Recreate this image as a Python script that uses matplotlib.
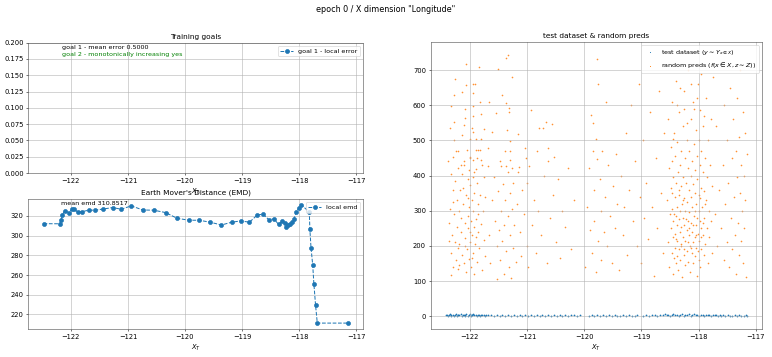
import matplotlib
matplotlib.use("Agg")
import matplotlib.pyplot as plt

# EMD per x bin
emd_x = [-122.48, -122.19, -122.17, -122.15, -122.11, -122.04, -121.98, -121.94, -121.88, -121.80,
         -121.69, -121.58, -121.43, -121.27, -121.12, -120.94, -120.74, -120.55, -120.34, -120.14,
         -119.93, -119.75, -119.56, -119.36, -119.18, -119.02, -118.87, -118.73, -118.63, -118.53,
         -118.44, -118.36, -118.29, -118.25, -118.22, -118.19, -118.15, -118.12, -118.09, -118.05,
         -118.00, -117.96, -117.82, -117.81, -117.79, -117.76, -117.74, -117.71, -117.68, -117.14]
emd_y = [312.1, 312.0, 316.0, 321.0, 325.4, 323.4, 327.0, 327.0, 323.7, 324.4,
         325.8, 325.8, 327.0, 328.5, 326.8, 330.2, 326.0, 325.8, 323.4, 317.6,
         315.6, 315.6, 313.6, 310.8, 313.6, 314.9, 313.6, 321.0, 321.7, 316.2,
         316.9, 311.5, 315.0, 312.9, 309.0, 310.8, 312.2, 314.2, 316.9, 323.7,
         328.5, 331.2, 324.0, 306.4, 287.7, 270.0, 251.3, 229.2, 211.1, 211.1]
mean_emd = 310.8517

# goal 1 local error, all 0.5 (outside the 0..0.2 view)
local_error = [0.5] * len(emd_x)
mean_error = 0.5
monotonic = "yes"

# test dataset points (y close to 0)
test_pts = [
    (-122.42, 2.5), (-122.40, 4.0), (-122.38, 1.0), (-122.36, 3.5), (-122.34, 5.0), (-122.32, 2.0),
    (-122.30, 4.5), (-122.28, 0.5), (-122.26, 3.0), (-122.24, 5.5), (-122.22, 1.5), (-122.20, 4.0),
    (-122.18, 2.5), (-122.16, 5.0), (-122.14, 1.0), (-122.12, 3.5), (-122.10, 4.5), (-122.08, 2.0),
    (-122.06, 5.5), (-122.04, 0.8), (-122.02, 3.0), (-122.00, 4.8), (-121.98, 1.8), (-121.96, 3.8),
    (-121.94, 5.2), (-121.92, 2.2), (-121.90, 4.2), (-121.88, 0.6), (-121.86, 3.2), (-121.84, 4.6),
    (-121.82, 1.4), (-121.80, 3.6), (-121.78, 2.6), (-121.76, 4.4), (-121.74, 1.2), (-121.72, 3.0),
    (-122.33, 0.8), (-122.21, 3.0), (-122.09, 1.2), (-121.97, 2.8),
    (-121.68, 2.0), (-121.63, 3.5), (-121.58, 1.0), (-121.53, 2.8), (-121.48, 0.8), (-121.43, 3.2),
    (-121.38, 1.5), (-121.33, 2.5), (-121.28, 0.6), (-121.23, 3.0), (-121.18, 1.8), (-121.13, 2.2),
    (-121.08, 0.9), (-121.03, 2.7), (-120.98, 1.3), (-120.93, 3.1), (-120.88, 0.7), (-120.83, 2.4),
    (-120.78, 1.6), (-120.73, 2.9), (-120.68, 0.5), (-120.63, 2.1), (-120.58, 1.2), (-120.53, 3.3),
    (-120.48, 0.8), (-120.43, 2.0), (-120.38, 1.5), (-120.33, 2.6), (-120.28, 0.9), (-120.23, 1.9),
    (-120.18, 2.8), (-120.13, 1.1), (-120.08, 4.5),
    (-119.92, 1.5), (-119.87, 2.8), (-119.82, 0.8), (-119.77, 2.2), (-119.72, 1.4), (-119.67, 3.0),
    (-119.62, 0.7), (-119.57, 2.0), (-119.52, 1.2), (-119.47, 2.6), (-119.42, 0.9), (-119.37, 1.8),
    (-119.32, 2.9), (-119.27, 1.0), (-119.22, 2.3), (-119.17, 0.6), (-119.12, 1.6), (-119.07, 2.7),
    (-118.97, 1.3), (-118.92, 2.4), (-118.87, 0.8), (-118.82, 1.9), (-118.77, 3.0), (-118.72, 1.1),
    (-118.67, 2.2),
    (-118.62, 3.5), (-118.59, 5.0), (-118.56, 2.0), (-118.53, 4.5), (-118.50, 1.0), (-118.47, 3.8),
    (-118.44, 5.5), (-118.41, 2.5), (-118.38, 4.2), (-118.35, 0.8), (-118.32, 3.2), (-118.29, 5.2),
    (-118.26, 1.8), (-118.23, 4.0), (-118.20, 2.8), (-118.17, 5.0), (-118.14, 1.2), (-118.11, 3.6),
    (-118.08, 4.8), (-118.05, 2.2), (-118.02, 4.4), (-117.99, 0.9), (-117.96, 3.0), (-117.93, 4.6),
    (-117.90, 1.6), (-117.87, 3.4), (-117.84, 2.4), (-117.81, 4.0), (-117.78, 1.0), (-117.75, 3.0),
    (-117.72, 2.0), (-117.69, 3.6), (-117.66, 1.4), (-117.63, 2.6), (-117.60, 0.8),
    (-117.57, 2.0), (-117.53, 1.0), (-117.49, 2.6), (-117.45, 0.7), (-117.41, 1.8), (-117.37, 2.4),
    (-117.33, 1.1), (-117.29, 2.0), (-117.25, 0.8), (-117.21, 1.6), (-117.17, 2.2), (-117.15, 1.0),
]

# random predictions, grouped by x cluster
preds_a = [
    (-122.38, 442), (-122.36, 265), (-122.35, 305), (-122.34, 535), (-122.33, 180), (-122.32, 118),
    (-122.32, 597), (-122.31, 230), (-122.30, 452), (-122.30, 358), (-122.29, 140), (-122.28, 630),
    (-122.28, 553), (-122.28, 501), (-122.27, 290), (-122.26, 674), (-122.26, 212), (-122.25, 385),
    (-122.24, 160), (-122.23, 330), (-122.22, 255), (-122.21, 420), (-122.20, 135), (-122.20, 470),
    (-122.19, 300), (-122.18, 205), (-122.17, 360), (-122.16, 240), (-122.15, 280), (-122.14, 639),
    (-122.14, 516), (-122.13, 175), (-122.13, 405), (-122.12, 320), (-122.11, 150), (-122.10, 544),
    (-122.10, 440), (-122.10, 430), (-122.09, 265), (-122.08, 590), (-122.08, 563), (-122.08, 222),
    (-122.07, 658), (-122.07, 345), (-122.06, 717), (-122.06, 125), (-122.05, 474), (-122.05, 190),
    (-122.04, 390), (-122.04, 285), (-122.03, 250), (-122.02, 162), (-122.02, 415), (-122.01, 310),
    (-122.00, 503), (-122.00, 450), (-122.00, 210), (-121.99, 454), (-121.99, 372), (-121.98, 140),
    (-121.98, 270), (-121.97, 536), (-121.97, 232), (-121.96, 330), (-121.95, 660), (-121.95, 635),
    (-121.95, 597), (-121.95, 568), (-121.95, 525), (-121.95, 180), (-121.94, 445), (-121.94, 395),
    (-121.94, 300), (-121.93, 255), (-121.92, 120), (-121.92, 350), (-121.91, 660), (-121.91, 205),
    (-121.90, 503), (-121.90, 474), (-121.90, 418), (-121.89, 275), (-121.88, 450), (-121.88, 155),
    (-121.87, 380), (-121.86, 318), (-121.85, 474), (-121.85, 238), (-121.84, 710), (-121.84, 195),
    (-121.83, 608), (-121.82, 474), (-121.82, 345), (-121.81, 575), (-121.80, 503), (-121.80, 445),
    (-121.80, 262), (-121.79, 130), (-121.78, 430), (-121.77, 300), (-121.76, 533), (-121.76, 218),
    (-121.75, 395), (-121.74, 170), (-121.73, 340), (-122.37, 215), (-122.33, 405), (-122.29, 325),
    (-122.24, 470), (-122.21, 195), (-122.18, 145), (-122.16, 430), (-122.12, 365), (-122.09, 200),
    (-122.03, 335), (-121.99, 240), (-121.96, 165), (-121.93, 410), (-121.89, 225), (-121.86, 290),
]
preds_b = [
    (-121.69, 427), (-121.68, 477), (-121.67, 609), (-121.66, 230), (-121.64, 150), (-121.62, 525),
    (-121.61, 330), (-121.58, 395), (-121.56, 270), (-121.54, 578), (-121.53, 105), (-121.52, 200),
    (-121.51, 703), (-121.50, 355), (-121.49, 245), (-121.48, 440), (-121.47, 160), (-121.46, 300),
    (-121.45, 427), (-121.44, 215), (-121.43, 628), (-121.42, 375), (-121.41, 120), (-121.40, 260),
    (-121.39, 470), (-121.38, 330), (-121.37, 606), (-121.37, 427), (-121.36, 734), (-121.36, 185),
    (-121.35, 530), (-121.34, 285), (-121.33, 742), (-121.33, 410), (-121.32, 592), (-121.32, 580),
    (-121.31, 140), (-121.30, 470), (-121.30, 445), (-121.30, 350), (-121.29, 497), (-121.29, 230),
    (-121.28, 108), (-121.27, 680), (-121.27, 305), (-121.26, 420), (-121.25, 195), (-121.24, 380),
    (-121.22, 260), (-121.20, 155), (-121.18, 320), (-121.16, 410), (-121.15, 518), (-121.14, 425),
    (-121.12, 240), (-121.10, 170), (-121.08, 360), (-121.06, 290),
]
preds_c = [
    (-121.04, 477), (-121.02, 450), (-121.00, 200), (-121.00, 380), (-120.98, 140), (-120.96, 427),
    (-120.93, 585), (-120.91, 260), (-120.88, 330), (-120.85, 180), (-120.83, 470), (-120.80, 300),
    (-120.79, 536), (-120.76, 230), (-120.72, 535), (-120.70, 400), (-120.67, 551), (-120.65, 150),
    (-120.63, 478), (-120.63, 440), (-120.60, 280), (-120.57, 546), (-120.55, 345), (-120.53, 452),
    (-120.50, 210), (-120.45, 390), (-120.42, 165), (-120.38, 300), (-120.33, 255), (-120.28, 420),
    (-120.23, 190), (-120.18, 330),
]
preds_d = [
    (-119.98, 140), (-119.95, 310), (-119.92, 420), (-119.90, 245), (-119.88, 573), (-119.86, 180),
    (-119.85, 470), (-119.84, 548), (-119.83, 360), (-119.82, 270), (-119.80, 503), (-119.79, 125),
    (-119.77, 732), (-119.77, 446), (-119.76, 660), (-119.75, 215), (-119.73, 390), (-119.71, 300),
    (-119.70, 160), (-119.68, 470), (-119.66, 240), (-119.64, 340), (-119.62, 610), (-119.60, 200),
    (-119.58, 430), (-119.55, 285), (-119.52, 150), (-119.50, 370), (-119.47, 250), (-119.44, 460),
    (-119.42, 320), (-119.40, 130),
]
preds_e = [
    (-119.36, 400), (-119.33, 230), (-119.30, 310), (-119.27, 520), (-119.25, 175), (-119.22, 360),
    (-119.18, 600), (-119.15, 270), (-119.12, 440), (-119.08, 200), (-119.05, 660), (-119.03, 340),
    (-119.00, 150), (-118.98, 500), (-118.95, 280), (-118.92, 380), (-118.88, 220), (-118.85, 580),
    (-118.82, 310), (-118.78, 115), (-118.75, 450), (-118.72, 250), (-118.69, 640), (-118.66, 350),
    (-118.63, 180), (-118.60, 520),
]
preds_f = [
    (-118.55, 330), (-118.54, 560), (-118.53, 210), (-118.52, 420), (-118.51, 140), (-118.50, 290),
    (-118.49, 480), (-118.48, 250), (-118.48, 365), (-118.47, 180), (-118.47, 610), (-118.46, 305),
    (-118.46, 440), (-118.45, 225), (-118.45, 120), (-118.44, 395), (-118.44, 270), (-118.43, 520),
    (-118.43, 165), (-118.42, 340), (-118.42, 235), (-118.41, 455), (-118.41, 195), (-118.40, 285),
    (-118.40, 670), (-118.39, 380), (-118.39, 150), (-118.38, 260), (-118.38, 310), (-118.37, 495),
    (-118.37, 215), (-118.36, 410), (-118.36, 130), (-118.35, 345), (-118.35, 275), (-118.34, 580),
    (-118.34, 190), (-118.33, 240), (-118.33, 430), (-118.32, 300), (-118.32, 160), (-118.31, 370),
    (-118.31, 255), (-118.30, 470), (-118.30, 205), (-118.29, 320), (-118.29, 110), (-118.28, 540),
    (-118.28, 280), (-118.27, 225), (-118.27, 395), (-118.26, 175), (-118.26, 335), (-118.25, 640),
    (-118.25, 260), (-118.24, 450), (-118.24, 145), (-118.23, 300), (-118.23, 215), (-118.22, 380),
    (-118.21, 500), (-118.21, 245), (-118.20, 185), (-118.20, 325), (-118.19, 420), (-118.19, 270),
    (-118.18, 700), (-118.18, 155), (-118.17, 360), (-118.17, 230), (-118.16, 470), (-118.16, 295),
    (-118.15, 200), (-118.15, 125), (-118.14, 400), (-118.14, 265), (-118.13, 560), (-118.13, 340),
    (-118.12, 180), (-118.12, 240), (-118.11, 440), (-118.11, 310), (-118.10, 210), (-118.10, 610),
    (-118.09, 375), (-118.09, 150), (-118.08, 285), (-118.08, 490), (-118.07, 225), (-118.07, 350),
    (-118.06, 170), (-118.06, 415), (-118.05, 260), (-118.05, 530), (-118.04, 320), (-118.04, 195),
    (-118.03, 455), (-118.03, 115), (-118.02, 280), (-118.02, 390), (-118.01, 235), (-118.01, 660),
    (-118.00, 345), (-118.00, 160), (-118.00, 500), (-117.99, 300), (-117.99, 215), (-117.98, 430),
    (-117.98, 270), (-117.97, 585), (-117.97, 140), (-117.96, 365), (-117.96, 250), (-117.95, 190),
    (-117.95, 470), (-117.94, 310), (-117.93, 410), (-117.93, 230), (-117.92, 540), (-117.91, 175),
    (-117.91, 355), (-117.90, 280), (-117.89, 450), (-117.88, 205), (-117.87, 620), (-117.87, 330),
    (-117.86, 250), (-117.85, 395), (-117.84, 150), (-117.83, 500), (-117.82, 300), (-117.81, 225),
    (-117.80, 430), (-117.79, 560), (-117.78, 270), (-117.77, 180), (-117.76, 370), (-117.75, 680),
    (-118.46, 350), (-118.43, 290), (-118.40, 220), (-118.37, 170), (-118.34, 360), (-118.31, 200),
    (-118.28, 330), (-118.25, 190), (-118.22, 275), (-118.19, 210), (-118.16, 250), (-118.13, 195),
    (-118.10, 260), (-118.07, 300), (-118.04, 230), (-118.01, 185), (-117.98, 335), (-117.95, 225),
    (-117.92, 265), (-117.89, 320), (-118.44, 505), (-118.38, 600), (-118.32, 650), (-118.26, 590),
    (-118.20, 550), (-118.14, 660), (-118.08, 590), (-118.02, 620), (-117.96, 690), (-117.90, 570),
]
preds_g = [
    (-117.60, 250), (-117.58, 430), (-117.56, 160), (-117.55, 600), (-117.53, 320), (-117.51, 210),
    (-117.50, 500), (-117.48, 380), (-117.47, 140), (-117.45, 650), (-117.44, 280), (-117.42, 450),
    (-117.41, 190), (-117.40, 560), (-117.38, 340), (-117.37, 230), (-117.35, 470), (-117.34, 120),
    (-117.33, 395), (-117.32, 620), (-117.31, 265), (-117.30, 510), (-117.29, 175), (-117.28, 350),
    (-117.27, 700), (-117.26, 430), (-117.25, 215), (-117.24, 300), (-117.23, 580), (-117.22, 150),
    (-117.21, 400), (-117.20, 250), (-117.19, 520), (-117.18, 330), (-117.17, 110), (-117.16, 460),
    (-117.65, 360), (-117.68, 200), (-117.70, 540), (-117.72, 290),
]

all_preds = preds_a + preds_b + preds_c + preds_d + preds_e + preds_f + preds_g
pred_x = [p[0] for p in all_preds]
pred_y = [p[1] for p in all_preds]
test_x = [p[0] for p in test_pts]
test_y = [p[1] for p in test_pts]

plt.rcParams['font.size'] = 10
plt.rcParams['axes.titlesize'] = 11
plt.rcParams['axes.edgecolor'] = '#444444'

fig = plt.figure(figsize=(16, 7.4), dpi=48.25)
fig.suptitle('epoch 0 / X dimension "Longitude"', y=0.985, fontsize=12)

# training goals
ax_goal = fig.add_axes([0.0367, 0.5154, 0.4339, 0.365])
ax_goal.plot(emd_x, local_error, '--o', label='goal 1 - local error')
ax_goal.set_ylim(0, 0.2)
ax_goal.set_title('Training goals')
ax_goal.set_xlabel('$X_T$')
ax_goal.text(0.10, 0.985, 'goal 1 - mean error %.4f' % mean_error, transform=ax_goal.transAxes,
             va='top', fontsize=9.5)
ax_goal.text(0.10, 0.93, 'goal 2 - monotonically increasing ' + monotonic, transform=ax_goal.transAxes,
             va='top', fontsize=9.5, color='green')
ax_goal.legend(loc='upper right', fontsize=9.5)
ax_goal.grid(True)

# EMD
ax_emd = fig.add_axes([0.0367, 0.0784, 0.4339, 0.3642])
ax_emd.plot(emd_x, emd_y, '--o', label='local emd')
ax_emd.set_title("Earth Mover's Distance (EMD)")
ax_emd.set_xlabel('$X_T$')
ax_emd.text(emd_x[2], max(emd_y), 'mean emd %.4f' % mean_emd, fontsize=9.5)
ax_emd.legend(loc='upper right', fontsize=9.5)
ax_emd.grid(True)
ax_goal.set_xlim(ax_emd.get_xlim())

# test dataset & random preds
ax_sc = fig.add_axes([0.5579, 0.0784, 0.4295, 0.8031])
ax_sc.scatter(test_x, test_y, s=7, linewidths=0, label='test dataset ($y \\sim Y_{x \\in X}$)')
ax_sc.scatter(pred_x, pred_y, s=6, linewidths=0, alpha=0.85,
              label='random preds ($f(x \\in X, z \\sim Z)$)')
ax_sc.set_title('test dataset & random preds')
ax_sc.set_xlabel('$X_T$')
ax_sc.legend(loc='upper right', fontsize=9.5, markerscale=0.6)
ax_sc.grid(True)

fig.savefig('out.png', dpi=48.25)
